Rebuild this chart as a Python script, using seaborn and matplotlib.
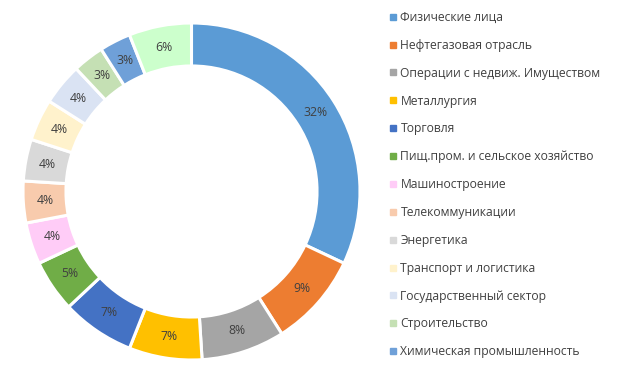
import matplotlib
matplotlib.use("Agg")
import matplotlib.pyplot as plt
import seaborn as sns
from matplotlib.lines import Line2D

categories = ["Физические лица", "Нефтегазовая отрасль", "Операции с недвиж. Имуществом",
              "Металлургия", "Торговля", "Пищ.пром. и сельское хозяйство", "Машиностроение",
              "Телекоммуникации", "Энергетика", "Транспорт и логистика",
              "Государственный сектор", "Строительство", "Химическая промышленность", "Прочее"]
values = [32, 9, 8, 7, 7, 5, 4, 4, 4, 4, 4, 3, 3, 6]
colors = ["#5B9BD5", "#ED7D31", "#A5A5A5", "#FFC000", "#4472C4", "#70AD47", "#FFCCF7",
          "#F8CBAD", "#D9D9D9", "#FFF2CC", "#DAE3F3", "#C5E0B4", "#6FA0D8", "#CCFFCC"]
legend_count = 13

sns.set_theme(style="white")
plt.rcParams['font.family'] = ['Open Sans', 'DejaVu Sans']

fig = plt.figure(figsize=(6.19, 3.79), dpi=100)
ax = fig.add_axes([23/619, 19/379, 337/619, 337/379])
wedges, texts, autotexts = ax.pie(
    values, colors=colors, startangle=90, counterclock=False, radius=1,
    wedgeprops=dict(width=0.255, edgecolor="white", linewidth=2.2),
    autopct="%1.0f%%", pctdistance=0.87,
    textprops=dict(fontsize=8.8, color="#404040"))
ax.set_xlim(-1, 1)
ax.set_ylim(-1, 1)
ax.set_aspect("equal")
ax.axis("off")

handles = [Line2D([0], [0], marker="s", linestyle="none", markersize=3.8,
                  markerfacecolor=colors[i], markeredgecolor=colors[i])
           for i in range(legend_count)]
fig.legend(handles, categories[:legend_count], loc="upper left",
           bbox_to_anchor=(389/619, 1 - 11/379), frameon=False, fontsize=8.7,
           labelcolor="#404040", handlelength=0.6, handletextpad=0.35,
           labelspacing=1.23, borderpad=0, borderaxespad=0)

fig.savefig("out.png", dpi=100)
